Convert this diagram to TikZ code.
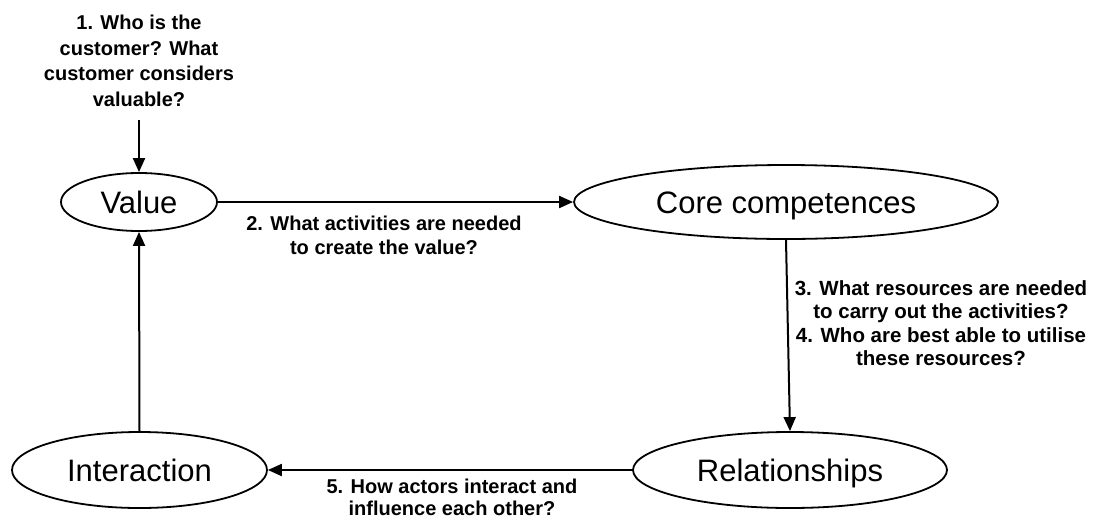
\documentclass[tikz,border=0pt]{standalone}
\usepackage{fontspec}
\setmainfont{Liberation Sans}
\usetikzlibrary{shapes.geometric,arrows.meta}
\tikzset{
  oval/.style={ellipse, draw=black, line width=1.8pt, inner sep=0pt,
    text height=22pt, text depth=0pt,
    font=\fontsize{31}{36}\selectfont},
  qlabel/.style={align=center, inner sep=0pt,
    font=\bfseries\fontsize{20}{24}\selectfont},
  link/.style={line width=2pt, -{Triangle[length=14pt,width=12pt]}},
}
\begin{document}
\begin{tikzpicture}[x=1pt,y=-1pt]
\useasboundingbox (0,0) rectangle (1093,523);
\node[oval, minimum width=156pt, minimum height=58pt] (value) at (139,202) {Value};
\node[oval, minimum width=424pt, minimum height=74pt] (core) at (786,202) {Core competences};
\node[oval, minimum width=314pt, minimum height=76pt] (rel) at (790,470) {Relationships};
\node[oval, minimum width=255pt, minimum height=76pt] (inter) at (139.5,470) {Interaction};

\node[qlabel, font=\bfseries\fontsize{20}{25.5}\selectfont] (q1) at (139,61) {1. Who is the\\customer? What\\customer considers\\valuable?};
\coordinate (q1end) at (139,120);
\node[qlabel] (q2) at (384,235) {2. What activities are needed\\to create the value?};
\node[qlabel, font=\bfseries\fontsize{20.5}{23.5}\selectfont] (q3) at (941,323) {3. What resources are needed\\to carry out the activities?\\4. Who are best able to utilise\\these resources?};
\node[qlabel, font=\bfseries\fontsize{20}{22}\selectfont] (q5) at (452,497) {5. How actors interact and\\influence each other?};

\draw[link] (q1end) -- (value.north);
\draw[link] (value.east) -- (core.west);
\draw[link] (core.south) -- (rel.north);
\draw[link] (rel.west) -- (inter.east);
\draw[link] (inter.north) -- (value.south);
\end{tikzpicture}
\end{document}
